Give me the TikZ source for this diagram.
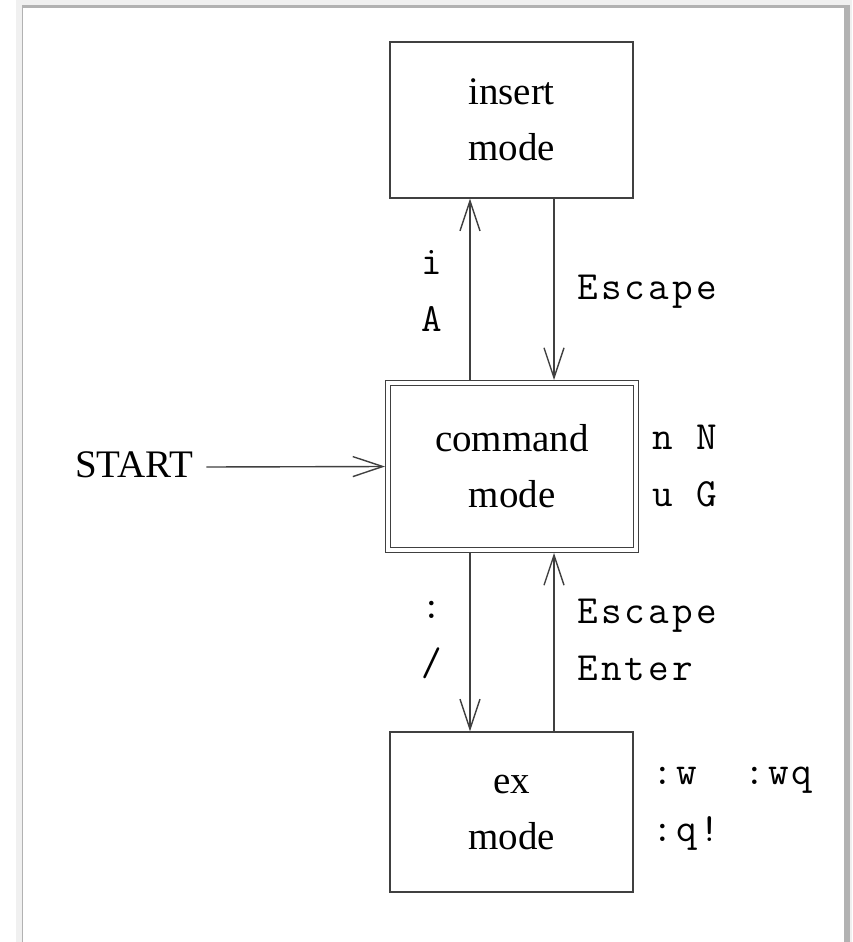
\documentclass[tikz,border=0pt]{standalone}
\usepackage{fontspec}
\setmainfont{Liberation Serif}
\setmonofont{Latin Modern Mono}[LetterSpace=8]
\usetikzlibrary{arrows.meta,calc}
\tikzset{
  box/.style={draw=black!75, line width=1.4pt, minimum width=243pt, minimum height=156pt, align=center, inner sep=0pt, font=\fontsize{39}{56}\selectfont},
  arr/.style={draw=black!75, line width=1.4pt, -{Straight Barb[length=30pt,width=20pt,line width=1.4pt]}},
  lbl/.style={inner sep=0pt, align=left, font=\ttfamily\fontsize{40}{57}\selectfont},
}
\begin{document}
\begin{tikzpicture}[x=1pt,y=-1pt]
\useasboundingbox (0,0) rectangle (852,942);
% page frame with shadow
\fill[black!6] (16,0) rectangle (852,942);
\fill[black!30] (22,5) rectangle (850,942);
\fill[white] (23,8) rectangle (844,942);
% boxes
\node[box] (ins) at (511.5,120) {insert\\mode};
\node[box, minimum width=248pt, minimum height=167pt, double=white, double distance=3.5pt, outer sep=3pt] (cmd) at (512,466.5) {command\\mode};
\node[box, minimum height=160pt] (ex) at (511.5,812) {ex\\mode};
\node[inner sep=0pt, anchor=west, font=\fontsize{39}{56}\selectfont] (start) at (75,465) {START};
% arrows
\draw[arr] ([xshift=-42pt]cmd.north) -- ([xshift=-41.5pt]ins.south);
\draw[arr] ([xshift=42.5pt]ins.south) -- ([xshift=42pt]cmd.north);
\draw[arr] ([xshift=-42pt]cmd.south) -- ([xshift=-41.5pt]ex.north);
\draw[arr] ([xshift=42.5pt]ex.north) -- ([xshift=42pt]cmd.south);
\draw[arr] ([xshift=13pt,yshift=-2pt]start.east) -- (cmd.west);
% labels
\node[lbl, align=center] (la) at (432,291) {i\\A};
\node[lbl, anchor=west] (lesc) at (577,292) {Escape};
\node[lbl, anchor=west] (lnn) at (652,466) {n N\\u G};
\node[lbl, align=center] (lcol) at (432,640) {:\\/};
\node[lbl, anchor=west] (lee) at (577,640) {Escape\\Enter};
\node[lbl, anchor=west] (lw) at (652,809) {:w\ \ :wq\\:q!};
\end{tikzpicture}
\end{document}
